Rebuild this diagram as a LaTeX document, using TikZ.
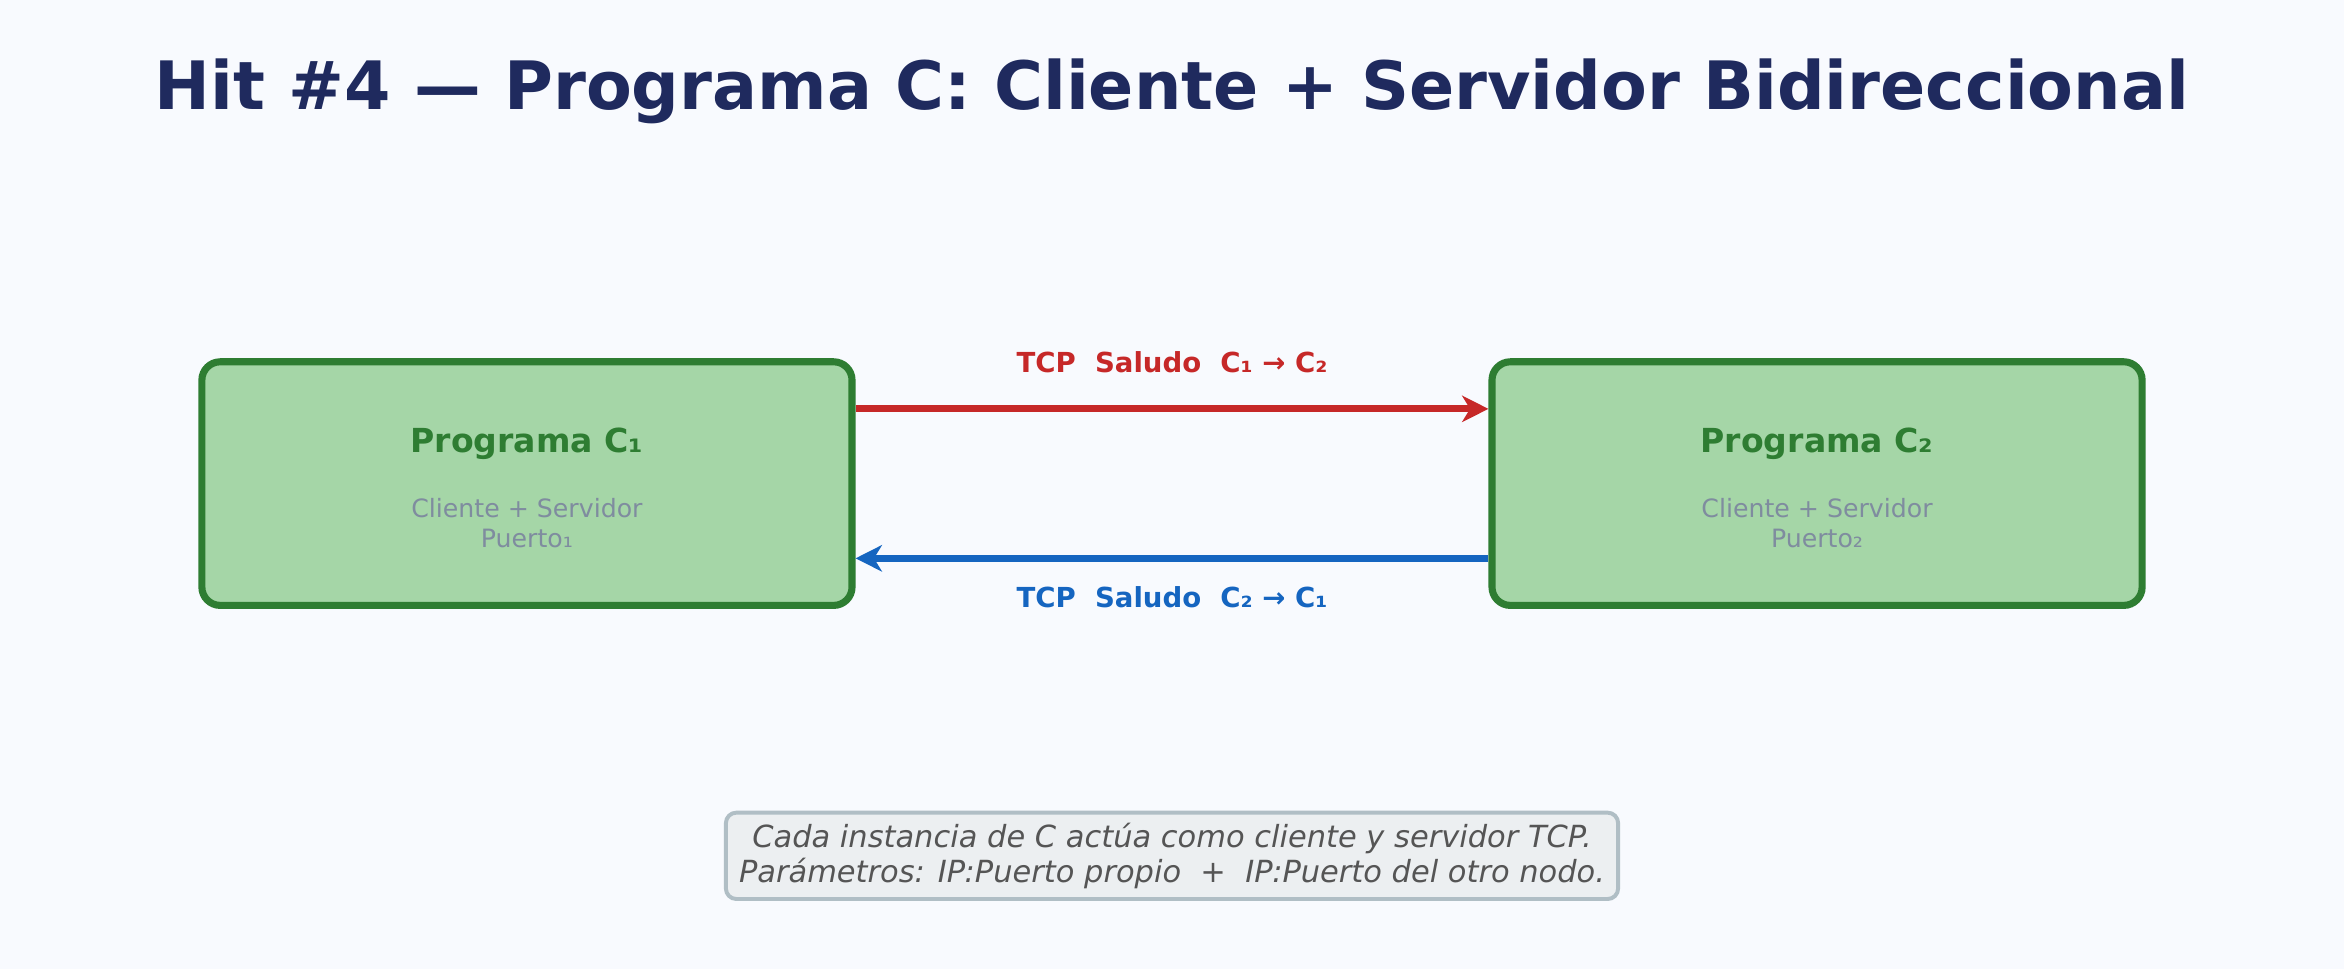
\documentclass[tikz,border=0pt]{standalone}
\usepackage{fontspec}
\setmainfont{DejaVu Sans}
\usetikzlibrary{positioning,arrows.meta}
\definecolor{bgcol}{HTML}{F8FAFE}
\definecolor{titlecol}{HTML}{1F2A5E}
\definecolor{boxfill}{HTML}{A5D6A7}
\definecolor{boxline}{HTML}{2E7D32}
\definecolor{subcol}{HTML}{7F8C9F}
\definecolor{redcol}{HTML}{C62828}
\definecolor{bluecol}{HTML}{1565C0}
\definecolor{notefill}{HTML}{ECEFF1}
\definecolor{noteline}{HTML}{B0BEC5}
\definecolor{notetext}{HTML}{555555}
\tikzset{
  prog/.style={draw=boxline, fill=boxfill, line width=2.7pt, rounded corners=7pt,
    minimum width=8.7cm, minimum height=3.26cm},
  progtitle/.style={text=boxline, font=\bfseries\fontsize{12.6}{15}\selectfont},
  progsub/.style={text=subcol, font=\fontsize{9.6}{11.2}\selectfont, align=center},
  msg/.style={line width=2.6pt, -{Stealth[length=10pt,width=10pt,inset=3pt]}},
  msglabel/.style={font=\bfseries\fontsize{10.5}{12.5}\selectfont}
}
\begin{document}
\begin{tikzpicture}[x=0.02cm,y=-0.02cm]
\fill[bgcol] (0,0) rectangle (1568,648);
\useasboundingbox (0,0) rectangle (1568,648);

\node[text=titlecol, font=\bfseries\fontsize{25.4}{30}\selectfont] (title) at (784,61)
  {Hit \#4 — Programa C: Cliente + Servidor Bidireccional};

% the two programs
\node[prog] (c1) at (352.5,323.5) {};
\node[progtitle] (c1t) at (352.5,297) {Programa C₁};
\node[progsub] (c1s) at (352.5,350) {Cliente + Servidor\\Puerto₁};

\node[prog] (c2) at (1215.5,323.5) {};
\node[progtitle] (c2t) at (1215.5,297) {Programa C₂};
\node[progsub] (c2s) at (1215.5,350) {Cliente + Servidor\\Puerto₂};

% messages
\coordinate (r1) at ([yshift=1.0cm]c1.east);
\coordinate (r2) at ([yshift=1.0cm]c2.west);
\coordinate (b1) at ([yshift=-1.0cm]c1.east);
\coordinate (b2) at ([yshift=-1.0cm]c2.west);
\draw[msg, redcol] (r1) -- (r2) node[midway, above=9pt, msglabel] (redlbl) {TCP\ \ Saludo\ \ C₁ → C₂};
\draw[msg, bluecol] (b2) -- (b1) node[midway, below=6pt, msglabel] (bluelbl) {TCP\ \ Saludo\ \ C₂ → C₁};

% note
\node[draw=noteline, fill=notefill, line width=1.5pt, rounded corners=4pt, text=notetext,
  align=center, inner xsep=5pt, inner ysep=4pt,
  font=\itshape\fontsize{11.6}{13.2}\selectfont] (note) at (784,572.5)
  {Cada instancia de C actúa como cliente y servidor TCP.\\Parámetros: IP:Puerto propio\ \ +\ \ IP:Puerto del otro nodo.};
\end{tikzpicture}
\end{document}
